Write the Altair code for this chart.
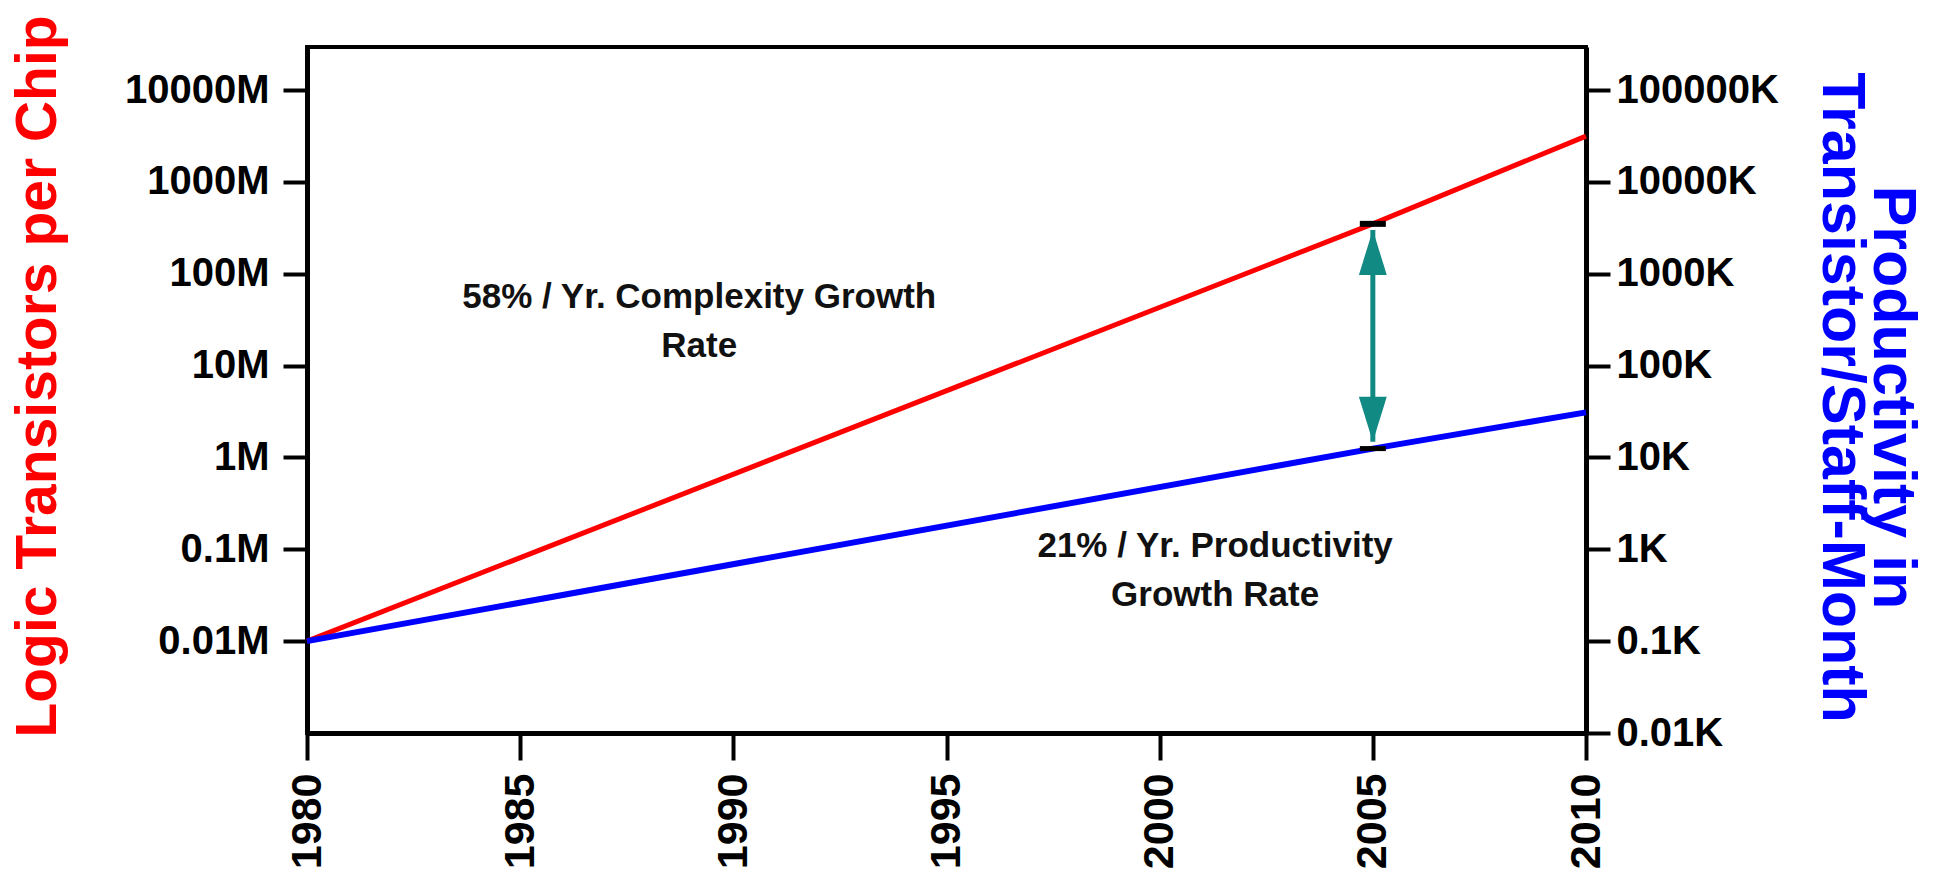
import altair as alt
import pandas as pd

# ---- data ----
years = [1980, 2005, 2010]
complexity_m = [0.01, 350, 3160]        # logic transistors per chip (M)
productivity_k = [0.1, 12.5, 31]        # transistors / staff-month (K)

x_ticks = [1980, 1985, 1990, 1995, 2000, 2005, 2010]
left_ticks = [0.01, 0.1, 1, 10, 100, 1000, 10000]
right_ticks = [0.01, 0.1, 1, 10, 100, 1000, 10000, 100000]
left_suffix = "M"
right_suffix = "K"
left_domain = [0.001, 29500]
right_domain = [0.01, 295000]

arrow_year = [2005]
arrow_top_m = [300]
arrow_bottom_m = [1.48]
marker_year = [2005]
marker_red_m = [350]
marker_blue_k = [12.5]

annot_text = ["58% / Yr. Complexity Growth\nRate", "21% / Yr. Productivity\nGrowth Rate"]
annot_year = [1989.2, 2001.3]
annot_m = [56, 0.109]

RED = "#ff0000"
BLUE = "#0000ff"
TEAL = "#128a84"
LABEL_FONT = "Liberation Sans"

df_red = pd.DataFrame({"year": years, "v": complexity_m})
df_blue = pd.DataFrame({"year": years, "k": productivity_k})
df_arrow = pd.DataFrame({"year": arrow_year, "v": arrow_top_m, "v2": arrow_bottom_m})
df_top = pd.DataFrame({"year": arrow_year, "v": arrow_top_m})
df_bot = pd.DataFrame({"year": arrow_year, "v": arrow_bottom_m})
df_mred = pd.DataFrame({"year": marker_year, "v": marker_red_m})
df_mblue = pd.DataFrame({"year": marker_year, "k": marker_blue_k})
df_text = pd.DataFrame({"year": annot_year, "v": annot_m, "t": annot_text})

x_axis = alt.Axis(
    values=x_ticks, format="d", title=None, labelAngle=270,
    labelAlign="right", labelBaseline="middle",
    labelFont=LABEL_FONT, labelFontWeight="bold", labelFontSize=43,
    labelPadding=13, tickSize=27, labelColor="black",
)
x_enc = alt.X("year:Q", scale=alt.Scale(domain=[1980, 2010], nice=False, zero=False), axis=x_axis)

left_scale = alt.Scale(type="log", domain=left_domain, nice=False)
left_axis = alt.Axis(
    values=left_ticks, labelExpr=f"datum.value + '{left_suffix}'",
    labelFont=LABEL_FONT, labelFontWeight="bold", labelFontSize=40,
    labelPadding=14, tickSize=24, labelColor="black",
    title="Logic Transistors per Chip", titleColor=RED, titleFont=LABEL_FONT,
    titleFontSize=57, titleFontWeight="bold", titleAngle=270,
    titleAlign="center", titleBaseline="alphabetic", titleX=-252, titleY=329,
)
y_left = alt.Y("v:Q", scale=left_scale, axis=left_axis)

right_scale = alt.Scale(type="log", domain=right_domain, nice=False)
right_axis = alt.Axis(
    orient="right", values=right_ticks, labelExpr=f"datum.value + '{right_suffix}'",
    labelFont=LABEL_FONT, labelFontWeight="bold", labelFontSize=40,
    labelPadding=6, tickSize=24, labelColor="black",
    title=["Productivity in", "Transistor/Staff-Month"], titleColor=BLUE,
    titleFont=LABEL_FONT, titleFontSize=61, titleFontWeight="bold",
    titleAngle=90, titleAlign="center", titleBaseline="alphabetic",
    titleLineHeight=51, titleX=287, titleY=350,
)
y_right = alt.Y("k:Q", scale=right_scale, axis=right_axis)

red_line = alt.Chart(df_red).mark_line(color=RED, strokeWidth=5).encode(x=x_enc, y=y_left)
shaft = alt.Chart(df_arrow).mark_rule(color=TEAL, strokeWidth=5).encode(x=x_enc, y=y_left, y2="v2:Q")
head_up = alt.Chart(df_top).mark_point(
    shape="M0,0L0.62,2L-0.62,2Z", size=2025, filled=True, color=TEAL, opacity=1, strokeWidth=0
).encode(x=x_enc, y=y_left)
head_down = alt.Chart(df_bot).mark_point(
    shape="M0,0L0.62,-2L-0.62,-2Z", size=2025, filled=True, color=TEAL, opacity=1, strokeWidth=0
).encode(x=x_enc, y=y_left)
tick_red = alt.Chart(df_mred).mark_tick(
    orient="horizontal", color="black", size=26, thickness=6, opacity=1
).encode(x=x_enc, y=y_left)
texts = alt.Chart(df_text).mark_text(
    font=LABEL_FONT, fontWeight="bold", fontSize=35, lineBreak="\n",
    lineHeight=49, align="center", baseline="middle", color="#111111",
).encode(x=x_enc, y=y_left, text="t:N")

left = alt.layer(red_line, shaft, head_up, head_down, tick_red, texts)

blue_line = alt.Chart(df_blue).mark_line(color=BLUE, strokeWidth=6).encode(x=x_enc, y=y_right)
tick_blue = alt.Chart(df_mblue).mark_tick(
    orient="horizontal", color="black", size=26, thickness=5, opacity=1
).encode(x=x_enc, y=y_right)
right = alt.layer(blue_line, tick_blue)

chart = (
    alt.layer(left, right)
    .resolve_scale(y="independent")
    .properties(
        width=1279, height=686,
        padding={"left": 307, "top": 47, "right": 354, "bottom": 143},
        autosize=alt.AutoSizeParams(type="none"),
        background="white",
    )
    .configure_view(stroke="black", strokeWidth=4)
    .configure_axis(domainColor="black", domainWidth=5, tickColor="black", tickWidth=4, grid=False)
)

chart.save("out.html", embed_options={"renderer": "svg", "actions": False})
